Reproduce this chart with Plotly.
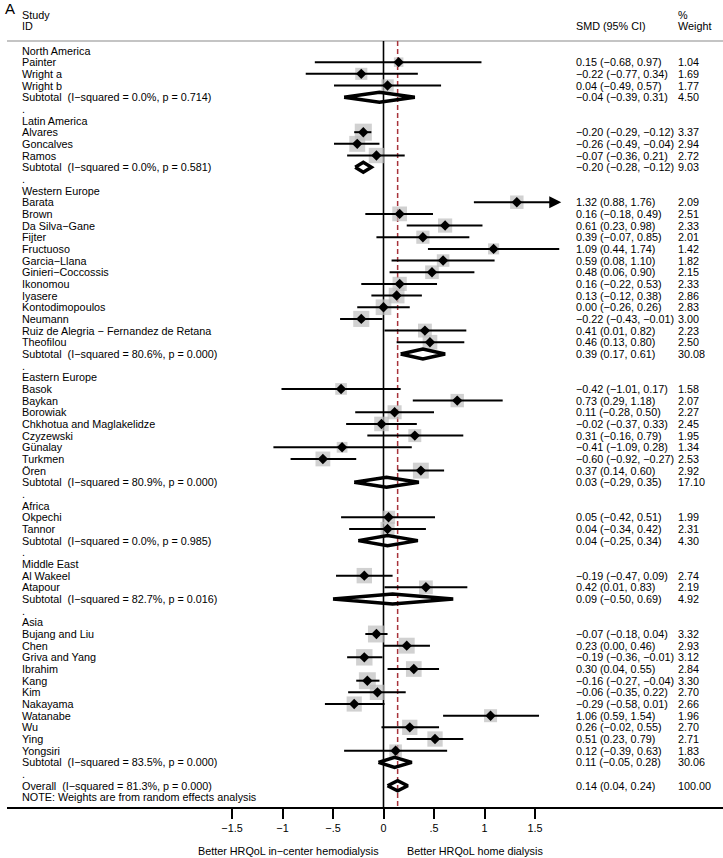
import plotly.graph_objects as go

# ---------------- data ----------------
regions = ["North America", "Latin America", "Western Europe", "Eastern Europe",
           "Africa", "Middle East", "Asia"]

study_names = [
    "Painter", "Wright a", "Wright b",
    "Alvares", "Goncalves", "Ramos",
    "Barata", "Brown", "Da Silva−Gane", "Fijter", "Fructuoso", "Garcia−Llana",
    "Ginieri−Coccossis", "Ikonomou", "Iyasere", "Kontodimopoulos", "Neumann",
    "Ruiz de Alegria − Fernandez de Retana", "Theofilou",
    "Basok", "Baykan", "Borowiak", "Chkhotua and Maglakelidze", "Czyzewski",
    "Günalay", "Turkmen", "Ören",
    "Okpechi", "Tannor",
    "Al Wakeel", "Atapour",
    "Bujang and Liu", "Chen", "Griva and Yang", "Ibrahim", "Kang", "Kim",
    "Nakayama", "Watanabe", "Wu", "Ying", "Yongsiri",
]
study_region = (["North America"] * 3 + ["Latin America"] * 3 + ["Western Europe"] * 13
                + ["Eastern Europe"] * 8 + ["Africa"] * 2 + ["Middle East"] * 2 + ["Asia"] * 11)
smd = [0.15, -0.22, 0.04,
       -0.20, -0.26, -0.07,
       1.32, 0.16, 0.61, 0.39, 1.09, 0.59, 0.48, 0.16, 0.13, 0.00, -0.22, 0.41, 0.46,
       -0.42, 0.73, 0.11, -0.02, 0.31, -0.41, -0.60, 0.37,
       0.05, 0.04,
       -0.19, 0.42,
       -0.07, 0.23, -0.19, 0.30, -0.16, -0.06, -0.29, 1.06, 0.26, 0.51, 0.12]
ci_low = [-0.68, -0.77, -0.49,
          -0.29, -0.49, -0.36,
          0.88, -0.18, 0.23, -0.07, 0.44, 0.08, 0.06, -0.22, -0.12, -0.26, -0.43, 0.01, 0.13,
          -1.01, 0.29, -0.28, -0.37, -0.16, -1.09, -0.92, 0.14,
          -0.42, -0.34,
          -0.47, 0.01,
          -0.18, 0.00, -0.36, 0.04, -0.27, -0.35, -0.58, 0.59, -0.02, 0.23, -0.39]
ci_high = [0.97, 0.34, 0.57,
           -0.12, -0.04, 0.21,
           1.76, 0.49, 0.98, 0.85, 1.74, 1.10, 0.90, 0.53, 0.38, 0.26, -0.01, 0.82, 0.80,
           0.17, 1.18, 0.50, 0.33, 0.79, 0.28, -0.27, 0.60,
           0.51, 0.42,
           0.09, 0.83,
           0.04, 0.46, -0.01, 0.55, -0.04, 0.22, 0.01, 1.54, 0.55, 0.79, 0.63]
weight = [1.04, 1.69, 1.77,
          3.37, 2.94, 2.72,
          2.09, 2.51, 2.33, 2.01, 1.42, 1.82, 2.15, 2.33, 2.86, 2.83, 3.00, 2.23, 2.50,
          1.58, 2.07, 2.27, 2.45, 1.95, 1.34, 2.53, 2.92,
          1.99, 2.31,
          2.74, 2.19,
          3.32, 2.93, 3.12, 2.84, 3.30, 2.70, 2.66, 1.96, 2.70, 2.71, 1.83]
clipped = ["Barata"]

sub_smd = [-0.04, -0.20, 0.39, 0.03, 0.04, 0.09, 0.11]
sub_low = [-0.39, -0.28, 0.17, -0.29, -0.25, -0.50, -0.05]
sub_high = [0.31, -0.12, 0.61, 0.35, 0.34, 0.69, 0.28]
sub_weight = [4.50, 9.03, 30.08, 17.10, 4.30, 4.92, 30.06]
sub_i2 = [0.0, 0.0, 80.6, 80.9, 0.0, 82.7, 83.5]
sub_p = [0.714, 0.581, 0.000, 0.000, 0.985, 0.016, 0.000]

overall_smd, overall_low, overall_high, overall_weight = 0.14, 0.04, 0.24, 100.00
overall_i2, overall_p = 81.3, 0.000

tick_vals = [-1.5, -1, -0.5, 0, 0.5, 1, 1.5]
tick_text = ["−1.5", "−1", "−.5", "0", ".5", "1", "1.5"]

# ---------------- layout geometry ----------------
W, H = 723, 858
PX0, PXU = 383.5, 101.0          # pixel of x=0, pixels per unit
LEFT = 7
ROW1_PX, ROW_H = 50.5, 11.67
AXIS_PX = 807
FONT = "Liberation Sans, Arial, sans-serif"
FS = 10.8


def xv(px):
    return (px - PX0) / PXU


def yr(px):
    return 1 + (px - ROW1_PX) / ROW_H


def ypaper(px):
    return 1 - px / AXIS_PX


def fmt(v):
    return f"{v:.2f}".replace("-", "−")


def ci_text(e, lo, hi):
    return f"{fmt(e)} ({fmt(lo)}, {fmt(hi)})"


# ---------------- build rows ----------------
labels = []      # (row, text)
cols = []        # (row, ci text, weight text)
study_rows = []
diamonds = []    # (row, est, lo, hi)
row = 1
for ri, reg in enumerate(regions):
    labels.append((row, reg))
    row += 1
    for i, nm in enumerate(study_names):
        if study_region[i] != reg:
            continue
        labels.append((row, nm))
        cols.append((row, ci_text(smd[i], ci_low[i], ci_high[i]), f"{weight[i]:.2f}"))
        study_rows.append((i, row))
        row += 1
    labels.append((row, f"Subtotal  (I−squared = {sub_i2[ri]:.1f}%, p = {sub_p[ri]:.3f})"))
    cols.append((row, ci_text(sub_smd[ri], sub_low[ri], sub_high[ri]), f"{sub_weight[ri]:.2f}"))
    diamonds.append((row, sub_smd[ri], sub_low[ri], sub_high[ri]))
    row += 1
    labels.append((row, "."))
    row += 1
labels.append((row, f"Overall  (I−squared = {overall_i2:.1f}%, p = {overall_p:.3f})"))
cols.append((row, ci_text(overall_smd, overall_low, overall_high), f"{overall_weight:.2f}"))
diamonds.append((row, overall_smd, overall_low, overall_high))
row += 1
labels.append((row, "NOTE: Weights are from random effects analysis"))

fig = go.Figure()

# weight boxes
fig.add_trace(go.Scatter(
    x=[smd[i] for i, r in study_rows], y=[r for i, r in study_rows], mode="markers",
    marker=dict(symbol="square", size=[9.3 * weight[i] ** 0.5 for i, r in study_rows],
                color="#BEBEBE", line=dict(width=0)),
    hoverinfo="skip", showlegend=False))

# CI lines
lx, ly = [], []
for i, r in study_rows:
    if study_names[i] in clipped:
        continue
    lx += [ci_low[i], ci_high[i], None]
    ly += [r, r, None]
fig.add_trace(go.Scatter(x=lx, y=ly, mode="lines", line=dict(color="black", width=2),
                         hoverinfo="skip", showlegend=False))

# point estimates
fig.add_trace(go.Scatter(
    x=[smd[i] for i, r in study_rows], y=[r for i, r in study_rows], mode="markers",
    marker=dict(symbol="diamond", size=8, color="black", line=dict(width=0)),
    hoverinfo="skip", showlegend=False))

# subtotal / overall diamonds
dh = 5.0 / ROW_H
for r, e, lo, hi in diamonds:
    fig.add_trace(go.Scatter(
        x=[lo, e, hi, e, lo], y=[r, r - dh, r, r + dh, r], mode="lines",
        line=dict(color="black", width=3.5), hoverinfo="skip", showlegend=False))

annotations = []
# clipped CI arrows
for i, r in study_rows:
    if study_names[i] in clipped:
        annotations.append(dict(x=ci_high[i], y=r, ax=ci_low[i], ay=r, xref="x", yref="y",
                                axref="x", ayref="y", showarrow=True, arrowhead=2,
                                arrowsize=1.2, arrowwidth=2, arrowcolor="black",
                                standoff=0, text=""))

for r, t in labels:
    annotations.append(dict(x=xv(20), y=r, xref="x", yref="y", text=t, showarrow=False,
                            xanchor="left", yanchor="middle",
                            font=dict(family=FONT, size=FS, color="black")))
for r, c, w in cols:
    annotations.append(dict(x=xv(574), y=r, xref="x", yref="y", text=c, showarrow=False,
                            xanchor="left", yanchor="middle",
                            font=dict(family=FONT, size=FS, color="black")))
    annotations.append(dict(x=xv(676), y=r, xref="x", yref="y", text=w, showarrow=False,
                            xanchor="left", yanchor="middle",
                            font=dict(family=FONT, size=FS, color="black")))

# headers
for px_x, px_y, t in [(20, 15, "Study"), (20, 26, "ID"), (574, 26, "SMD (95% CI)"),
                      (676, 15, "%"), (676, 26, "Weight")]:
    annotations.append(dict(x=xv(px_x), y=yr(px_y), xref="x", yref="y", text=t,
                            showarrow=False, xanchor="left", yanchor="middle",
                            font=dict(family=FONT, size=FS, color="black")))
annotations.append(dict(x=0, y=1, xref="paper", yref="paper", text="A", showarrow=False,
                        xanchor="left", yanchor="top", xshift=-4, yshift=2,
                        font=dict(family=FONT, size=15, color="black")))

# bottom direction labels
annotations.append(dict(x=xv(381), y=ypaper(851), xref="x", yref="paper",
                        text="Better HRQoL in−center hemodialysis", showarrow=False,
                        xanchor="right", yanchor="middle",
                        font=dict(family=FONT, size=FS, color="black")))
annotations.append(dict(x=xv(405), y=ypaper(851), xref="x", yref="paper",
                        text="Better HRQoL home dialysis", showarrow=False,
                        xanchor="left", yanchor="middle",
                        font=dict(family=FONT, size=FS, color="black")))

shapes = [
    dict(type="line", xref="paper", yref="y", x0=0, x1=1, y0=yr(41), y1=yr(41),
         line=dict(color="#C4C4C4", width=2), layer="below"),
    dict(type="line", xref="x", yref="y", x0=0, x1=0, y0=yr(41), y1=yr(AXIS_PX),
         line=dict(color="black", width=1.6), layer="below"),
    dict(type="line", xref="x", yref="y", x0=overall_smd, x1=overall_smd, y0=yr(41),
         y1=yr(AXIS_PX), line=dict(color="#A8323A", width=1.5, dash="5px,3px"),
         layer="below"),
]

fig.update_layout(
    width=W, height=H, margin=dict(l=LEFT, r=0, t=0, b=H - AXIS_PX),
    paper_bgcolor="white", plot_bgcolor="white",
    annotations=annotations, shapes=shapes, showlegend=False,
    xaxis=dict(range=[xv(LEFT), xv(W)], showgrid=False, zeroline=False,
               tickmode="array", tickvals=tick_vals, ticktext=tick_text,
               ticks="outside", ticklen=10, tickwidth=2, tickcolor="black",
               showline=True, linecolor="black", linewidth=2,
               tickfont=dict(family=FONT, size=FS, color="black")),
    yaxis=dict(range=[yr(AXIS_PX), yr(0)], showgrid=False, zeroline=False,
               showticklabels=False, ticks="", showline=False),
)

fig.write_html("out.html", config={"displayModeBar": False},
               post_script="document.body.style.margin='0';document.body.style.padding='0';")
